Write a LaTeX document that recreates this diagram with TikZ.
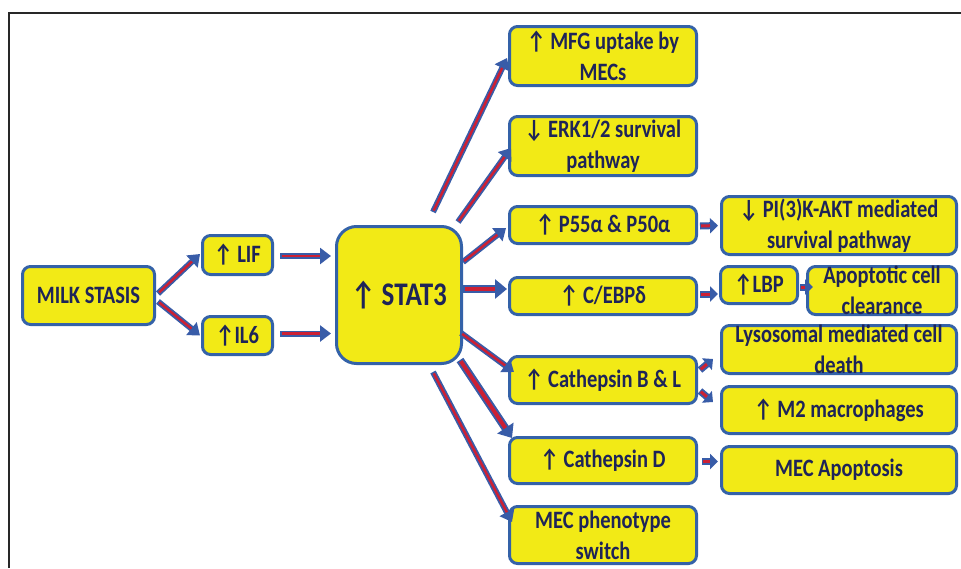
\documentclass[tikz,border=0pt]{standalone}
\usepackage{fontspec}
\usetikzlibrary{arrows.meta,calc}
\newfontfamily\lblfont{Carlito}[FakeStretch=0.82]
\definecolor{boxyellow}{RGB}{242,234,22}
\definecolor{boxblue}{RGB}{52,98,168}
\definecolor{txtnavy}{RGB}{30,36,88}
\definecolor{arrblue}{RGB}{56,92,168}
\definecolor{arrred}{RGB}{204,32,52}
\definecolor{framegray}{RGB}{40,40,40}
\tikzset{
 box/.style={draw=boxblue, fill=boxyellow, line width=3pt, rounded corners=8pt, inner sep=0pt},
 txt/.style={font=\lblfont\bfseries\fontsize{25}{31}\selectfont, text=txtnavy, align=center, inner sep=0pt},
 blueline/.style={draw=arrblue, line width=6pt, -{Triangle[length=11pt,width=16pt]}},
 redline/.style={draw=arrred, line width=2.5pt, shorten >=11pt, shorten <=1.5pt},
 bluethick/.style={draw=arrblue, line width=8pt, -{Triangle[length=12pt,width=19pt]}},
 redthick/.style={draw=arrred, line width=4pt, shorten >=12pt, shorten <=1.5pt},
 blueshort/.style={draw=arrblue, line width=7pt, -{Triangle[length=8pt,width=15pt]}},
 redshort/.style={draw=arrred, line width=3pt, shorten >=8pt, shorten <=1pt},
}
\newcommand\bx[6]{%
 \node[box, minimum width=#4pt, minimum height=#5pt] (#1) at (#2,#3) {};
 \node[txt] (#1t) at (#1) {#6};}
\newcommand\conn[2]{\draw[blueline] #1 -- #2; \draw[redline] #1 -- #2;}
\newcommand\connthick[2]{\draw[bluethick] #1 -- #2; \draw[redthick] #1 -- #2;}
\newcommand\connshort[2]{\draw[blueshort] #1 -- #2; \draw[redshort] #1 -- #2;}
\begin{document}
\begin{tikzpicture}[x=1pt,y=-1pt]
\useasboundingbox (0,0) rectangle (961,568);
\draw[framegray, line width=1.5pt] (9,568) -- (9,13) -- (961,13);
% boxes
\bx{milk}{88.5}{295.5}{132}{58}{MILK STASIS}
\bx{lif}{237.5}{255}{70}{39}{↑ LIF}
\bx{il6}{237.5}{335.5}{70}{38}{↑IL6}
\node[box, rounded corners=20pt, minimum width=125pt, minimum height=137pt] (stat3) at (399,295) {};
\node[txt, font=\lblfont\bfseries\fontsize{33}{38}\selectfont] (stat3t) at (stat3) {↑ STAT3};
\bx{mfg}{603}{56}{187}{59}{↑ MFG uptake by\\MECs}
\bx{erk}{603}{146}{187}{59}{↓ ERK1/2 survival\\pathway}
\bx{p55}{603}{225}{187}{37}{↑ P55α \& P50α}
\bx{cebp}{603}{296}{187}{37}{↑ C/EBPδ}
\bx{cathbl}{603}{380}{187}{47}{↑ Cathepsin B \& L}
\bx{cathd}{603}{460.5}{187}{46}{↑ Cathepsin D}
\bx{mecp}{603}{535}{187}{57}{MEC phenotype\\switch}
\bx{pi3k}{839}{225.5}{235}{58}{↓ PI(3)K-AKT mediated\\survival pathway}
\bx{lbp}{759}{285}{77}{37}{↑LBP}
\bx{apop}{882}{290.5}{149}{48}{Apoptotic cell\\clearance}
\bx{lyso}{839}{349.5}{235}{48}{Lysosomal mediated cell\\death}
\bx{m2}{839}{410}{235}{47}{↑ M2 macrophages}
\bx{meca}{839}{470}{235}{47}{MEC Apoptosis}
% connectors
\conn{($(milk.east)+(2,-2)$)}{($(lif.west)+(-1,-1)$)}
\conn{($(milk.east)+(2,6)$)}{($(il6.west)+(-1,0)$)}
\conn{($(lif.east)+(6,1)$)}{($(lif.east -| stat3.west)+(-4,1)$)}
\conn{($(il6.east)+(6,-2)$)}{($(il6.east -| stat3.west)+(-4,-2)$)}
\conn{($(stat3.north)+(34,-13)$)}{($(mfg.west)+(-1,2)$)}
\conn{($(stat3.north)+(59,-3)$)}{($(erk.west)+(3,2)$)}
\conn{($(stat3.east)+(0,-33)$)}{($(p55.west)+(-2,3)$)}
\connthick{($(stat3.east)+(0,-6)$)}{($(stat3.east -| cebp.west)+(-1,-6)$)}
\conn{($(stat3.east)+(-2,38)$)}{($(cathbl.west)+(6,-8)$)}
\connthick{($(stat3.south east)+(-3,-5)$)}{($(cathd.north west)+(4,2)$)}
\conn{($(stat3.south)+(34,7)$)}{($(mecp.west)+(4,-13)$)}
\connshort{($(p55.east)+(2,1)$)}{($(pi3k.west)+(-2,0)$)}
\connshort{($(cebp.east)+(2,-2)$)}{($(cebp.east -| lbp.west)+(-1,-2)$)}
\connshort{($(lbp.east)+(1,2)$)}{($(lbp.east -| apop.west)+(7,2)$)}
\connshort{($(cathbl.east)+(2,-10)$)}{($(lyso.south west)+(-7,-16)$)}
\connshort{($(cathbl.east)+(2,11)$)}{($(m2.west)+(-7,-8)$)}
\connshort{($(cathd.east)+(4,1)$)}{($(cathd.east -| meca.west)+(-2,1)$)}
\end{tikzpicture}
\end{document}
